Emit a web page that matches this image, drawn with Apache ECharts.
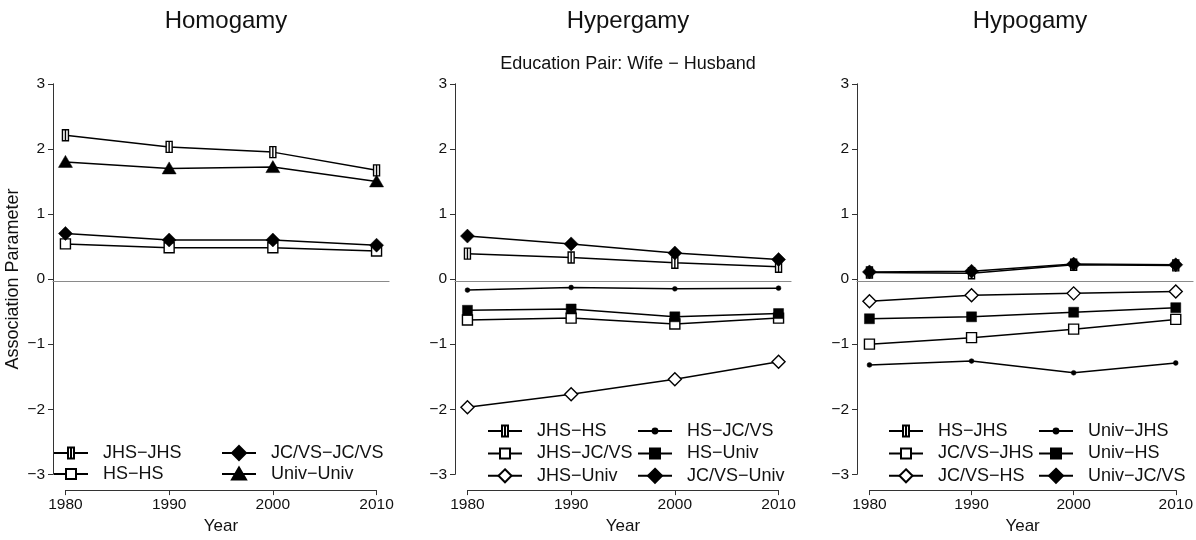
<!DOCTYPE html>
<html>
<head>
<meta charset="utf-8">
<script src="https://cdn.jsdelivr.net/npm/echarts@6/dist/echarts.min.js"></script>
<style>
  html, body { margin: 0; padding: 0; background: #fff; }
  #chart { width: 1196px; height: 540px; }
</style>
</head>
<body>
<div id="chart"></div>
<script>
// ---------------- data ----------------
const years = [1980, 1990, 2000, 2010];
const panelTitles = ['Homogamy', 'Hypergamy', 'Hypogamy'];
const subTitle = 'Education Pair: Wife \u2212 Husband';
const xAxisTitle = 'Year';
const yAxisTitle = 'Association Parameter';

// Homogamy
const homoNames = ['JHS\u2212JHS', 'HS\u2212HS', 'JC/VS\u2212JC/VS', 'Univ\u2212Univ'];
const homoJHS_JHS = [2.21, 2.03, 1.95, 1.67];
const homoHS_HS = [0.54, 0.48, 0.48, 0.43];
const homoJCVS_JCVS = [0.70, 0.60, 0.60, 0.52];
const homoUniv_Univ = [1.80, 1.70, 1.72, 1.50];

// Hypergamy
const hyperNames = ['JHS\u2212HS', 'JHS\u2212JC/VS', 'JHS\u2212Univ', 'HS\u2212JC/VS', 'HS\u2212Univ', 'JC/VS\u2212Univ'];
const hyperJHS_HS = [0.39, 0.33, 0.25, 0.19];
const hyperJHS_JCVS = [-0.63, -0.60, -0.69, -0.60];
const hyperJHS_Univ = [-1.97, -1.77, -1.54, -1.27];
const hyperHS_JCVS = [-0.17, -0.13, -0.15, -0.14];
const hyperHS_Univ = [-0.48, -0.46, -0.58, -0.53];
const hyperJCVS_Univ = [0.66, 0.54, 0.40, 0.30];

// Hypogamy
const hypoNames = ['HS\u2212JHS', 'JC/VS\u2212JHS', 'JC/VS\u2212HS', 'Univ\u2212JHS', 'Univ\u2212HS', 'Univ\u2212JC/VS'];
const hypoHS_JHS = [0.10, 0.09, 0.22, 0.21];
const hypoJCVS_JHS = [-1.00, -0.90, -0.77, -0.62];
const hypoJCVS_HS = [-0.34, -0.25, -0.22, -0.19];
const hypoUniv_JHS = [-1.32, -1.26, -1.44, -1.29];
const hypoUniv_HS = [-0.61, -0.58, -0.51, -0.44];
const hypoUniv_JCVS = [0.11, 0.12, 0.23, 0.22];

// ---------------- marker shapes (drawn in a 16x16 frame) ----------------
const FRAME = 'M0,0M16,16';
const S = {
  narrow: { symbol: 'path://' + FRAME + 'M5,2.5H11V13.5H5ZM8,2.5V13.5', fill: '#fff' },
  openSq: { symbol: 'path://' + FRAME + 'M3,3H13V13H3Z', fill: '#fff' },
  fillSq: { symbol: 'path://' + FRAME + 'M3,3H13V13H3Z', fill: '#000' },
  openDia: { symbol: 'path://' + FRAME + 'M8,1.5L14.5,8L8,14.5L1.5,8Z', fill: '#fff' },
  fillDia: { symbol: 'path://' + FRAME + 'M8,1L15,8L8,15L1,8Z', fill: '#000' },
  tri: { symbol: 'path://' + FRAME + 'M8,1.5L15,13.5L1,13.5Z', fill: '#000' },
  dot: { symbol: 'path://' + FRAME + 'M5.6,8A2.4,2.4,0,1,1,10.4,8A2.4,2.4,0,1,1,5.6,8Z', fill: '#000' }
};

const panels = [
  { names: homoNames, values: [homoJHS_JHS, homoHS_HS, homoJCVS_JCVS, homoUniv_Univ],
    styles: [S.narrow, S.openSq, S.fillDia, S.tri],
    legendCols: [[0, 1], [2, 3]], legendX: [53, 221], legendTop: 444, legendGap: 3 },
  { names: hyperNames, values: [hyperJHS_HS, hyperJHS_JCVS, hyperJHS_Univ, hyperHS_JCVS, hyperHS_Univ, hyperJCVS_Univ],
    styles: [S.narrow, S.openSq, S.openDia, S.dot, S.fillSq, S.fillDia],
    legendCols: [[0, 1, 2], [3, 4, 5]], legendX: [487, 637], legendTop: 422, legendGap: 4.4 },
  { names: hypoNames, values: [hypoHS_JHS, hypoJCVS_JHS, hypoJCVS_HS, hypoUniv_JHS, hypoUniv_HS, hypoUniv_JCVS],
    styles: [S.narrow, S.openSq, S.openDia, S.dot, S.fillSq, S.fillDia],
    legendCols: [[0, 1, 2], [3, 4, 5]], legendX: [888, 1038], legendTop: 422, legendGap: 4.4 }
];

// ---------------- layout ----------------
const panelLeft = [53, 455, 857];
const plotW = 336, plotTop = 68, plotH = 426;
const xPad = 1.2, yPad = 0.24;
const xSpan = 30 + 2 * xPad, ySpan = 6 + 2 * yPad;
const font = 'Liberation Sans, Arial, Helvetica, sans-serif';
const axisColor = '#333';

const grid = [], xAxis = [], yAxis = [], series = [], legend = [], title = [];

panels.forEach((p, i) => {
  const L = panelLeft[i];
  const pxX = plotW / xSpan, pxY = plotH / ySpan;
  // grid A: full plotting region (zero reference line)
  grid.push({ left: L, top: plotTop, width: plotW, height: plotH, containLabel: false });
  // grid B: data region 1980-2010 x -3..3
  grid.push({ left: L + xPad * pxX, top: plotTop + yPad * pxY, width: 30 * pxX, height: 6 * pxY, containLabel: false });
  const gA = 2 * i, gB = 2 * i + 1;

  xAxis.push({
    gridIndex: gA, type: 'value', min: 1980 - xPad, max: 2010 + xPad,
    axisLine: { show: true, onZero: true, lineStyle: { color: '#8a8a8a', width: 1.2 } },
    axisTick: { show: false }, axisLabel: { show: false }, splitLine: { show: false }
  });
  yAxis.push({
    gridIndex: gA, type: 'value', min: -3 - yPad, max: 3 + yPad, show: false,
    splitLine: { show: false }
  });

  xAxis.push({
    gridIndex: gB, type: 'value', min: 1980, max: 2010, interval: 10,
    offset: yPad * pxY,
    axisLine: { show: true, onZero: false, lineStyle: { color: axisColor, width: 1 } },
    axisTick: { show: true, length: 5, lineStyle: { color: axisColor } },
    axisLabel: { show: true, fontSize: 15.5, color: '#111', margin: 7, fontFamily: font,
      formatter: v => String(v) },
    splitLine: { show: false },
    name: xAxisTitle, nameLocation: 'middle', nameGap: 27,
    nameTextStyle: { fontSize: 17, color: '#111', fontFamily: font }
  });
  const yB = {
    gridIndex: gB, type: 'value', min: -3, max: 3, interval: 1,
    offset: xPad * pxX,
    axisLine: { show: true, onZero: false, lineStyle: { color: axisColor, width: 1 } },
    axisTick: { show: true, length: 5, lineStyle: { color: axisColor } },
    axisLabel: { show: true, fontSize: 15.5, color: '#111', margin: 8, fontFamily: font,
      formatter: v => String(v).replace('-', '\u2212') },
    splitLine: { show: false }
  };
  if (i === 0) {
    yB.name = yAxisTitle;
    yB.nameLocation = 'middle';
    yB.nameGap = 31;
    yB.nameTextStyle = { fontSize: 18, color: '#111', fontFamily: font };
  }
  yAxis.push(yB);

  p.names.forEach((name, k) => {
    const st = p.styles[k];
    series.push({
      name: name, type: 'line',
      xAxisIndex: 2 * i + 1, yAxisIndex: 2 * i + 1,
      data: years.map((y, j) => [y, p.values[k][j]]),
      symbol: st.symbol, symbolSize: 16, symbolKeepAspect: true, showSymbol: true,
      lineStyle: { color: '#000', width: 1.5 },
      itemStyle: { color: st.fill, borderColor: '#000', borderWidth: st.fill === '#fff' ? 1.4 : 0.5, opacity: 1 },
      emphasis: { disabled: true },
      animation: false, z: 3
    });
  });

  p.legendCols.forEach((col, c) => {
    legend.push({
      orient: 'vertical', left: p.legendX[c], top: p.legendTop,
      itemWidth: 34, itemHeight: 20, itemGap: p.legendGap,
      selectedMode: false, padding: 0,
      data: col.map(k => p.names[k]),
      textStyle: { fontSize: 18, color: '#111', fontFamily: font, padding: [0, 0, 0, 10], lineHeight: 18 }
    });
  });

  title.push({
    text: panelTitles[i], left: L + plotW / 2, top: 4, textAlign: 'center',
    textStyle: { fontSize: 24, fontWeight: 'normal', color: '#111', fontFamily: font }
  });
});

title.push({
  text: subTitle, left: panelLeft[1] + plotW / 2, top: 50, textAlign: 'center',
  textStyle: { fontSize: 18, fontWeight: 'normal', color: '#111', fontFamily: font }
});

const chart = echarts.init(document.getElementById('chart'), null, { renderer: 'canvas' });
chart.setOption({
  backgroundColor: '#fff',
  animation: false,
  title: title,
  grid: grid,
  xAxis: xAxis,
  yAxis: yAxis,
  legend: legend,
  series: series
});
</script>
</body>
</html>
